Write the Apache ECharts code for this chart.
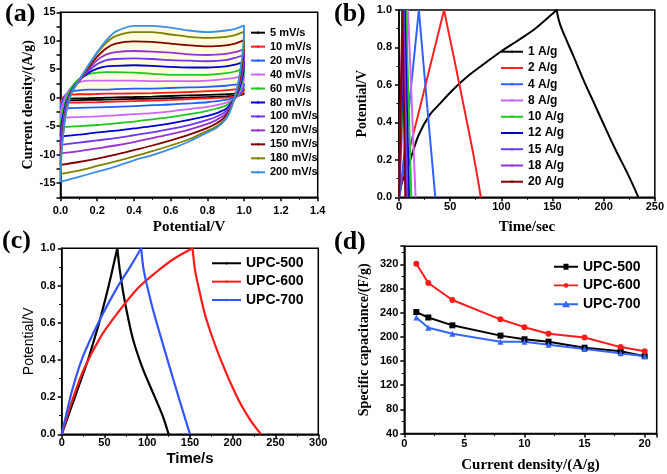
<!DOCTYPE html>
<html><head><meta charset="utf-8">
<script src="https://cdn.jsdelivr.net/npm/echarts@6/dist/echarts.min.js"></script>
<style>html,body{margin:0;padding:0;background:#fff}#c{width:667px;height:474px}</style>
</head><body><div id="c"></div>
<script>
// ---------- (a) cyclic voltammetry ----------
const cvPotential = [0,0.005,0.015,0.03,0.06,0.1,0.15,0.2,0.25,0.3,0.4,0.5,0.6,0.7,0.8,0.9,0.95,1.0,
                     0.995,0.98,0.96,0.93,0.9,0.85,0.8,0.7,0.6,0.5,0.4,0.3,0.2,0.1,0];
const cvNames = ['5 mV/s','10 mV/s','20 mV/s','40 mV/s','60 mV/s','80 mV/s','100 mV/s','120 mV/s','150 mV/s','180 mV/s','200 mV/s'];
const cv5   = [-0.5,-0.35,-0.25,-0.2,-0.15,-0.12,-0.1,-0.05,0,0.05,0.12,0.2,0.3,0.4,0.5,0.6,0.7,0.8, 0.6,0.45,0.35,0.28,0.22,0.15,0.1,0,-0.08,-0.15,-0.22,-0.3,-0.36,-0.42,-0.5];
const cv10  = [-0.9,-0.4,0.1,0.4,0.55,0.6,0.6,0.65,0.7,0.7,0.75,0.8,0.9,1.0,1.15,1.3,1.45,1.6, 0.9,0.5,0.2,0.1,0,-0.05,-0.1,-0.25,-0.4,-0.5,-0.6,-0.7,-0.8,-0.85,-0.9];
const cv20  = [-1.9,-1.0,-0.2,0.6,1.1,1.3,1.4,1.4,1.4,1.5,1.6,1.6,1.7,1.8,1.9,2.1,2.3,2.5, 1.6,0.8,0.2,-0.2,-0.4,-0.6,-0.8,-1.0,-1.2,-1.3,-1.5,-1.6,-1.7,-1.8,-1.9];
const cv40  = [-3.5,-2.2,-1.0,0.4,1.9,2.7,3.0,3.0,3.0,3.0,3.0,2.9,2.9,2.9,3.0,3.3,3.5,3.9, 2.6,1.3,0.2,-0.5,-0.9,-1.3,-1.6,-2.0,-2.4,-2.7,-2.9,-3.1,-3.3,-3.4,-3.5];
const cv60  = [-5.2,-3.5,-2.0,-0.3,1.8,3.3,4.1,4.4,4.5,4.5,4.4,4.2,4.0,4.0,4.0,4.3,4.6,5.1, 3.5,1.8,0.3,-0.7,-1.4,-1.9,-2.3,-2.9,-3.4,-3.8,-4.2,-4.5,-4.8,-5.0,-5.2];
const cv80  = [-6.8,-4.8,-3.0,-1.0,1.3,3.0,4.3,5.1,5.5,5.6,5.7,5.6,5.4,5.3,5.3,5.5,5.8,6.3, 4.3,2.3,0.5,-0.9,-2.0,-2.7,-3.2,-3.9,-4.5,-5.0,-5.4,-5.8,-6.1,-6.5,-6.8];
const cv100 = [-8.3,-6,-3.8,-1.4,1.2,3.0,4.6,5.9,6.6,6.8,6.9,6.8,6.6,6.5,6.4,6.6,7.0,7.5, 5.2,2.8,0.6,-1.1,-2.4,-3.3,-3.9,-4.8,-5.5,-6.1,-6.6,-7.1,-7.5,-7.9,-8.3];
const cv120 = [-9.8,-7,-4.5,-1.8,1.0,2.9,4.9,6.6,7.6,8.0,8.2,8.1,7.9,7.6,7.5,7.7,8.0,8.5, 6.0,3.2,0.8,-1.3,-2.8,-3.9,-4.6,-5.6,-6.4,-7.1,-7.8,-8.4,-8.9,-9.4,-9.8];
const cv150 = [-11.8,-8.5,-5.5,-2.3,0.9,2.9,5.2,7.2,8.7,9.5,9.9,9.8,9.5,9.2,9.0,9.2,9.5,10.1, 7.2,4.0,1.0,-1.5,-3.2,-4.5,-5.3,-6.5,-7.5,-8.4,-9.2,-10.0,-10.7,-11.3,-11.8];
const cv180 = [-13.4,-9.5,-6,-2.5,0.9,3.0,5.5,7.8,9.7,10.8,11.5,11.5,11.1,10.7,10.5,10.7,11.0,11.6, 8.5,4.8,1.3,-1.7,-3.6,-5.0,-5.8,-7.3,-8.4,-9.4,-10.3,-11.2,-12.0,-12.8,-13.4];
const cv200 = [-14.8,-10,-6.5,-2.8,0.8,3.0,5.6,8.0,10.1,11.6,12.6,12.6,12.3,11.8,11.5,11.8,12.1,12.7, 9,5,1.5,-1.8,-3.8,-5.3,-6.1,-7.7,-9.0,-10.1,-11.0,-12.1,-13.0,-13.9,-14.8];
const cvCurrents = [cv5,cv10,cv20,cv40,cv60,cv80,cv100,cv120,cv150,cv180,cv200];
const cvColors = ['#000000','#ff1a1a','#2060ff','#cc66ff','#1ec81e','#0000cc','#7035ee','#9b30d0','#800000','#808000','#3a8ee6'];

// ---------- (b) charge/discharge at different current densities ----------
const gcdNames = ['1 A/g','2 A/g','4 A/g','8 A/g','10 A/g','12 A/g','15 A/g','18 A/g','20 A/g'];
const gcd1c = [[0,0],[3,0.08],[11,0.2],[19,0.33],[30,0.44],[40,0.5],[52,0.57],[68,0.65],[85,0.72],[100,0.78],[117,0.84],[133,0.9],[148,0.97],[154,1.0]];
const gcd1d = [[154,1.0],[157,0.93],[162,0.86],[170,0.76],[180,0.63],[190,0.51],[200,0.39],[212,0.25],[224,0.12],[234,0]];
const gcd2c = [[0,0],[3,0.1],[15,0.36],[30,0.69],[44,1.0]];
const gcd2d = [[44,1.0],[47,0.92],[55,0.71],[65,0.44],[73,0.22],[80,0]];
const gcd4c = [[0,0],[1.5,0.04],[19.4,1.0]];
const gcd4d = [[19.4,1.0],[27,0.52],[35.5,0]];
const gcd8c = [[0,0],[8.8,1.0]];
const gcd8d = [[8.8,1.0],[16.2,0]];
const gcd10c = [[0,0],[6.8,1.0]];
const gcd10d = [[6.8,1.0],[12,0]];
const gcd12c = [[0,0],[5.5,1.0]];
const gcd12d = [[5.5,1.0],[9.8,0]];
const gcd15c = [[0,0],[4.5,1.0]];
const gcd15d = [[4.5,1.0],[8.2,0]];
const gcd18c = [[0,0],[3.8,1.0]];
const gcd18d = [[3.8,1.0],[7,0]];
const gcd20c = [[0,0],[3.3,1.0]];
const gcd20d = [[3.3,1.0],[6.2,0]];
const gcdCharge = [gcd1c,gcd2c,gcd4c,gcd8c,gcd10c,gcd12c,gcd15c,gcd18c,gcd20c];
const gcdDischarge = [gcd1d,gcd2d,gcd4d,gcd8d,gcd10d,gcd12d,gcd15d,gcd18d,gcd20d];
const gcdColors = ['#000000','#ff2020','#3060ff','#cc66ff','#1ec81e','#0000cc','#6a3df0','#9933dd','#800000'];

// ---------- (c) charge/discharge of three samples ----------
const upcNames = ['UPC-500','UPC-600','UPC-700'];
const upc500c = [[0,0],[10,0.13],[20,0.26],[30,0.39],[40,0.54],[45,0.62],[55,0.8],[65,1.0]];
const upc500d = [[65,1.0],[68,0.88],[72,0.76],[77,0.64],[84,0.5],[95,0.35],[107,0.22],[118,0.1],[125,0]];
const upc600c = [[0,0],[10,0.15],[25,0.34],[45,0.52],[65,0.65],[90,0.79],[110,0.87],[130,0.94],[153,1.0]];
const upc600d = [[153,1.0],[156,0.88],[161,0.77],[169,0.62],[186,0.4],[205,0.2],[220,0.08],[233,0]];
const upc700c = [[0,0],[5,0.1],[13,0.25],[25,0.42],[45,0.62],[65,0.79],[80,0.9],[93,1.0]];
const upc700d = [[93,1.0],[96,0.88],[105,0.7],[111,0.6],[125,0.38],[138,0.18],[150,0]];
const upcCharge = [upc500c,upc600c,upc700c];
const upcDischarge = [upc500d,upc600d,upc700d];
const upcColors = ['#000000','#ff1a1a','#3355ff'];

// ---------- (d) specific capacitance ----------
const currentDensity = [1,2,4,8,10,12,15,18,20];
const cap500 = [241,232,219,202,196,192,182,176,168];
const cap600 = [321,289,261,229,216,205,199,183,176];
const cap700 = [232,215,205,192,192,187,180,173,168];
const capSeries = [cap500,cap600,cap700];
const capSymbols = ['rect','circle','triangle'];
const capColors = ['#000000','#ff1a1a','#3366ff'];
const capLegendIcons = [
  'path://M0,2.6H9.5V0.5H14.5V2.6H24V4.4H14.5V6.5H9.5V4.4H0Z',
  'path://M0,2.6H9.6A2.8,2.8,0,0,1,14.4,2.6H24V4.4H14.4A2.8,2.8,0,0,1,9.6,4.4H0Z',
  'path://M0,2.6H10.4L12,0L13.6,2.6H24V4.4H14.7L16,6.6H8L9.3,4.4H0Z'
];

const SERIF = "'Liberation Serif','Times New Roman',serif";
const SANS = "'Liberation Sans',Arial,sans-serif";

function axis(gi, min, max, interval, name, nameGap, nameStyle, labelMargin, fmt) {
  return {
    type: 'value', gridIndex: gi, min, max, interval,
    name, nameLocation: 'middle', nameGap,
    nameTextStyle: Object.assign({color:'#000'}, nameStyle),
    axisLine: {show: true, onZero: false, lineStyle: {color: '#000', width: 1.5}},
    axisTick: {show: true, inside: false, length: 4, lineStyle: {color: '#000', width: 1.5}},
    minorTick: {show: true, splitNumber: 2, length: 2.5, lineStyle: {color: '#000', width: 1}},
    splitLine: {show: false},
    axisLabel: {color: '#000', fontFamily: SANS, fontWeight: 'bold', fontSize: 11, margin: labelMargin, formatter: fmt}
  };
}
const f1 = v => v.toFixed(1);
const fi = v => String(v);
const serifName = (s) => ({fontFamily: SERIF, fontWeight: 'bold', fontSize: s});

const grids = [
  {left: 60.5, top: 12.3, width: 257.2, height: 185},
  {left: 399, top: 10, width: 257, height: 187.3},
  {left: 61.7, top: 248.3, width: 256.6, height: 186},
  {left: 404.3, top: 246.2, width: 252.4, height: 187.3}
].map(g => Object.assign(g, {show: true, borderColor: '#000', borderWidth: 1.5, backgroundColor: 'transparent'}));

const xAxes = [
  axis(0, 0, 1.4, 0.2, 'Potential/V', 22, serifName(15), 8, f1),
  axis(1, 0, 250, 50, 'Time/sec', 22, serifName(15), 4, fi),
  axis(2, 0, 300, 50, 'Time/s', 17, {fontFamily: SANS, fontWeight: 'bold', fontSize: 15}, 3, fi),
  axis(3, 0, 21, 5, 'Current density/(A/g)', 24, serifName(15), 5, fi)
];
xAxes[3].axisLabel.showMaxLabel = false;

const yAxes = [
  axis(0, -17.5, 15, 2.5, 'Current density/(A/g)', 24, serifName(14), 5, v => (Math.abs(v % 5) < 1e-9 ? String(v) : '')),
  axis(1, 0, 1, 0.2, 'Potential/V', 30, serifName(14), 7, f1),
  axis(2, 0, 1, 0.2, 'Potential/V', 25, {fontFamily: SANS, fontWeight: 'normal', fontSize: 14}, 6, f1),
  axis(3, 40, 350, 40, 'Specific capacitance/(F/g)', 33, serifName(14), 6, fi)
];
yAxes[0].minorTick.show = false;
yAxes[3].axisLabel.showMaxLabel = false;

const series = [];
// pale yellow shading inside the upper half of the CV loops
series.push({
  type: 'custom', xAxisIndex: 0, yAxisIndex: 0, z: 1, silent: true, data: [[0, 0]],
  renderItem: (params, api) => {
    const outer = cvPotential.slice(0, 18).map((p, k) => api.coord([p, cv200[k]]));
    const inner = cvPotential.slice(0, 18).map((p, k) => api.coord([p, cv5[k]])).reverse();
    return {type: 'polygon', shape: {points: outer.concat(inner), smooth: 0.2}, style: {fill: '#fffbe2'}};
  }
});
cvNames.forEach((name, i) => {
  const pts = cvPotential.map((p, k) => [p, cvCurrents[i][k]]);
  const base = {type: 'line', name, xAxisIndex: 0, yAxisIndex: 0, symbol: 'none', smooth: 0.25, z: 2,
    color: cvColors[i], lineStyle: {width: 1.8, color: cvColors[i]}};
  series.push(Object.assign({}, base, {data: pts.slice(0, 18)}));
  series.push(Object.assign({}, base, {data: pts.slice(17)}));
});
gcdNames.forEach((name, i) => {
  const base = {type: 'line', name, xAxisIndex: 1, yAxisIndex: 1, symbol: 'none', smooth: 0.3,
    color: gcdColors[i], lineStyle: {width: 2, color: gcdColors[i]}};
  series.push(Object.assign({}, base, {data: gcdCharge[i]}));
  series.push(Object.assign({}, base, {data: gcdDischarge[i]}));
});
upcNames.forEach((name, i) => {
  const base = {type: 'line', name, xAxisIndex: 2, yAxisIndex: 2, symbol: 'none', smooth: 0.3,
    color: upcColors[i], lineStyle: {width: 2.2, color: upcColors[i]}};
  series.push(Object.assign({}, base, {data: upcCharge[i]}));
  series.push(Object.assign({}, base, {data: upcDischarge[i]}));
});
upcNames.forEach((name, i) => {
  series.push({type: 'line', name, xAxisIndex: 3, yAxisIndex: 3, symbol: capSymbols[i], symbolSize: 6,
    showSymbol: true, color: capColors[i], lineStyle: {width: 2, color: capColors[i]},
    itemStyle: {color: capColors[i]},
    data: currentDensity.map((c, k) => [c, capSeries[i][k]])});
});

const legendText = (size, lh) => ({color: '#000', fontFamily: SANS, fontWeight: 'bold', fontSize: size, lineHeight: lh});
const legends = [
  {data: cvNames, left: 250, top: 25.7, orient: 'vertical', itemWidth: 14, itemHeight: 3, itemGap: 0, textStyle: legendText(11, 13.96)},
  {data: gcdNames, left: 500, top: 43.6, orient: 'vertical', itemWidth: 22, itemHeight: 3, itemGap: 0, textStyle: legendText(12, 16.25)},
  {data: upcNames.map(n => ({name: n})), left: 211, top: 254.1, orient: 'vertical', itemWidth: 29, itemHeight: 3, itemGap: 0, textStyle: legendText(14, 18.35)},
  {data: upcNames.map((n, i) => ({name: n, icon: capLegendIcons[i], itemStyle: {color: capColors[i]}})),
    left: 554, top: 257.4, orient: 'vertical', itemWidth: 24, itemHeight: 7, itemGap: 0, textStyle: legendText(14, 18.65)}
];
legends.forEach(l => { l.padding = 0; l.selectedMode = false; l.inactiveColor = '#000'; });

const titleStyle = {fontFamily: SERIF, fontWeight: 'bold', fontSize: 26, color: '#000'};
const titles = [
  {text: '(a)', left: 5, top: 1},
  {text: '(b)', left: 334, top: 1},
  {text: '(c)', left: 2, top: 228},
  {text: '(d)', left: 334, top: 229}
].map(t => Object.assign(t, {padding: 0, textStyle: titleStyle}));

const chart = echarts.init(document.getElementById('c'), null, {renderer: 'canvas'});
chart.setOption({
  animation: false,
  backgroundColor: '#fff',
  title: titles,
  grid: grids,
  xAxis: xAxes,
  yAxis: yAxes,
  legend: legends,
  series
});
</script>
</body></html>
